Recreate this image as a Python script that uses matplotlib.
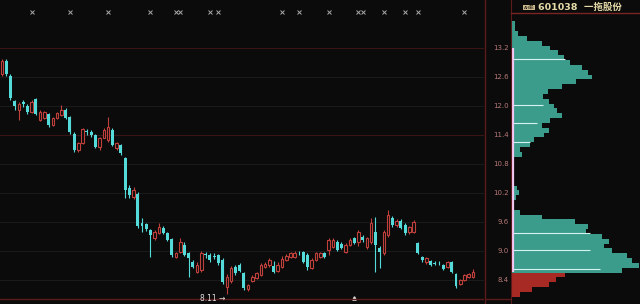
import matplotlib
matplotlib.use("Agg")
import matplotlib.pyplot as plt
from matplotlib.lines import Line2D
import matplotlib.transforms as mtransforms

# daily candles (price in yuan)
opens = [12.66, 12.93, 12.62, 12.10, 11.92, 12.08, 12.00, 11.88, 12.14, 11.71,
         11.75, 11.84, 11.61, 11.75, 11.81, 11.92, 11.77, 11.42, 11.09, 11.23,
         11.48, 11.47, 11.40, 11.15, 11.34, 11.30, 11.50, 11.13, 11.19, 10.92,
         10.30, 10.12, 10.18, 9.58, 9.55, 9.43, 9.26, 9.37, 9.47, 9.37,
         9.24, 8.87, 8.98, 9.12, 8.95, 8.77, 8.56, 8.60, 8.93, 8.91,
         8.89, 8.91, 8.81, 8.25, 8.38, 8.67, 8.71, 8.54, 8.21, 8.38,
         8.44, 8.50, 8.67, 8.71, 8.69, 8.58, 8.67, 8.81, 8.87, 8.87,
         8.96, 8.98, 8.91, 8.65, 8.81, 8.87, 8.95, 9.02, 9.08, 9.18,
         9.14, 8.98, 9.12, 9.26, 9.18, 9.29, 9.08, 9.18, 9.39, 9.06,
         8.96, 9.33, 9.68, 9.54, 9.62, 9.54, 9.39, 9.39, 9.16, 8.87,
         8.77, 8.79, 8.75, 8.75, 8.71, 8.67, 8.77, 8.52, 8.31, 8.40,
         8.46, 8.46]
closes = [12.93, 12.66, 12.17, 12.00, 12.04, 12.04, 11.88, 12.08, 11.83, 11.88,
          11.87, 11.61, 11.75, 11.85, 11.92, 11.75, 11.46, 11.09, 11.23, 11.52,
          11.46, 11.40, 11.15, 11.34, 11.50, 11.56, 11.19, 11.23, 11.03, 10.26,
          10.16, 10.26, 9.52, 9.52, 9.45, 9.33, 9.39, 9.49, 9.37, 9.22,
          8.91, 8.95, 9.18, 8.91, 8.85, 8.67, 8.71, 8.95, 8.91, 8.81,
          8.87, 8.75, 8.36, 8.46, 8.65, 8.54, 8.58, 8.23, 8.29, 8.46,
          8.54, 8.71, 8.73, 8.81, 8.56, 8.71, 8.83, 8.89, 8.95, 8.95,
          8.95, 8.77, 8.67, 8.81, 8.95, 8.95, 8.87, 9.22, 9.22, 9.02,
          9.06, 9.12, 9.22, 9.16, 9.39, 9.22, 9.26, 9.58, 9.12, 8.98,
          9.39, 9.74, 9.54, 9.62, 9.47, 9.37, 9.49, 9.60, 8.95, 8.81,
          8.85, 8.71, 8.73, 8.74, 8.62, 8.77, 8.56, 8.27, 8.40, 8.50,
          8.52, 8.56]
highs = [12.97, 12.97, 12.66, 12.12, 12.08, 12.12, 12.04, 12.12, 12.16, 11.92,
         11.90, 11.86, 11.77, 11.88, 12.02, 11.96, 11.79, 11.46, 11.25, 11.54,
         11.52, 11.50, 11.42, 11.36, 11.54, 11.77, 11.54, 11.25, 11.21, 10.95,
         10.36, 10.32, 10.22, 9.68, 9.58, 9.45, 9.43, 9.58, 9.52, 9.39,
         9.26, 8.98, 9.26, 9.18, 8.98, 8.81, 8.77, 9.00, 8.98, 8.95,
         8.95, 8.93, 8.85, 8.52, 8.69, 8.71, 8.75, 8.56, 8.31, 8.50,
         8.56, 8.75, 8.77, 8.85, 8.79, 8.77, 8.89, 8.93, 8.98, 9.00,
         9.00, 9.00, 8.95, 8.85, 8.98, 8.98, 8.98, 9.26, 9.26, 9.22,
         9.18, 9.16, 9.26, 9.29, 9.43, 9.33, 9.29, 9.68, 9.70, 9.10,
         9.43, 9.85, 9.72, 9.66, 9.66, 9.58, 9.52, 9.64, 9.18, 8.89,
         8.87, 8.81, 8.79, 8.79, 8.73, 8.79, 8.79, 8.54, 8.42, 8.52,
         8.54, 8.62]
lows = [12.62, 12.62, 12.12, 11.92, 11.71, 11.98, 11.84, 11.86, 11.81, 11.69,
        11.72, 11.56, 11.58, 11.73, 11.79, 11.73, 11.42, 11.05, 11.05, 11.21,
        11.40, 11.36, 11.13, 11.09, 11.34, 11.25, 11.17, 11.09, 10.99, 10.09,
        10.09, 10.07, 9.48, 9.39, 9.41, 8.87, 9.22, 9.35, 9.35, 9.20,
        8.87, 8.85, 8.95, 8.89, 8.46, 8.64, 8.54, 8.56, 8.85, 8.77,
        8.83, 8.71, 8.31, 8.11, 8.34, 8.50, 8.56, 8.19, 8.17, 8.36,
        8.42, 8.48, 8.65, 8.67, 8.54, 8.56, 8.65, 8.79, 8.85, 8.85,
        8.91, 8.75, 8.60, 8.62, 8.79, 8.85, 8.85, 8.91, 9.06, 9.00,
        9.04, 8.95, 9.10, 9.14, 9.10, 9.18, 9.04, 9.14, 8.56, 8.65,
        8.91, 9.29, 9.50, 9.50, 9.45, 9.33, 9.35, 9.37, 8.93, 8.77,
        8.73, 8.69, 8.71, 8.71, 8.60, 8.65, 8.54, 8.23, 8.29, 8.38,
        8.44, 8.44]

# information-mine markers along the top (candle index)
events = [7, 16, 25, 35, 41, 42, 49, 51, 66, 70, 77, 84, 85, 90, 95, 98, 109]

price_ticks = [13.2, 12.6, 12.0, 11.4, 10.8, 10.2, 9.6, 9.0, 8.4]
tick_labels = ["13.2", "12.6", "12.0", "11.4", "10.8", "10.2", "9.6", "9.0", "8.4"]

# chip distribution (cost price -> amount)
chip_prices = [13.7, 13.6, 13.5, 13.4, 13.3, 13.2, 13.1, 13.0, 12.9, 12.8,
               12.7, 12.6, 12.5, 12.4, 12.3, 12.2, 12.1, 12.0, 11.9, 11.8,
               11.7, 11.6, 11.5, 11.4, 11.3, 11.2, 11.1, 11.0, 10.9, 10.8,
               10.7, 10.6, 10.5, 10.4, 10.3, 10.2, 10.1, 10.0, 9.9, 9.8,
               9.7, 9.6, 9.5, 9.4, 9.3, 9.2, 9.1, 9.0, 8.9, 8.8,
               8.7, 8.6, 8.5, 8.4, 8.3, 8.2, 8.1]
chip_amount = [3, 3, 6, 15, 30, 38, 46, 52, 58, 70,
               76, 80, 64, 50, 36, 31, 37, 42, 45, 50,
               38, 30, 37, 32, 22, 18, 8, 10, 2, 1,
               1, 1, 1, 2, 5, 7, 4, 1, 2, 8,
               30, 63, 76, 74, 90, 97, 92, 100, 115, 120,
               127, 110, 53, 44, 37, 20, 8]
chip_mark_prices = [12.97, 12.02, 11.65, 11.25, 9.37, 9.02, 8.62]
chip_mark_len = [53, 31, 25, 18, 78, 78, 88]

bg = "#0b0b0b"
up_col = "#c0403c"
down_col = "#55dada"
dark_red = "#5c1a1a"
ylo, yhi = 7.90, 14.194

fig = plt.figure(figsize=(6.4, 3.04), dpi=100, facecolor=bg)
W, H = 640.0, 304.0

ax = fig.add_axes([0, 0, 484 / W, 1])
ax.set_facecolor(bg)
ax.set_xlim(-0.47, 113.6)
ax.set_ylim(ylo, yhi)
ax.axis("off")

for p in price_ticks:
    c = "#3a1515" if p in (13.2, 11.4) else "#1a1a1a"
    ax.axhline(p, color=c, lw=0.8, zorder=0)

for i in range(len(opens)):
    o, c, h, l = opens[i], closes[i], highs[i], lows[i]
    if c >= o:
        ax.vlines(i, l, h, color=up_col, lw=0.8, zorder=2)
        ax.bar(i, max(c - o, 0.012), bottom=o, width=0.62, facecolor=bg,
               edgecolor=up_col, linewidth=0.8, zorder=3)
    else:
        ax.vlines(i, l, h, color=down_col, lw=0.8, zorder=2)
        ax.bar(i, max(o - c, 0.012), bottom=c, width=0.7, color=down_col,
               linewidth=0, zorder=3)

trans = mtransforms.blended_transform_factory(ax.transData, ax.transAxes)
ax.plot(events, [1 - 12 / H] * len(events), "x", color="#a8a8a8", ms=2.6,
        mew=0.7, transform=trans, clip_on=False)
ax.plot([83], [1 - 298 / H], "^", color="#e0e0e0", ms=2.5, transform=trans)

imin = lows.index(min(lows))
ax.text(imin - 0.3, lows[imin], "%.2f →" % lows[imin], ha="right", va="top",
        color="#e0e0e0", fontsize=5.5)
ax.plot([0, 1], [1 - 299 / H] * 2, color=dark_red, lw=1, transform=ax.transAxes)

# price label strip
axl = fig.add_axes([485 / W, 0, 26 / W, 1])
axl.set_facecolor(bg)
axl.set_ylim(ylo, yhi)
axl.axis("off")
for p, t in zip(price_ticks, tick_labels):
    axl.text(0.92, p, t, ha="right", va="center", color="#b87878",
             fontsize=5, transform=mtransforms.blended_transform_factory(axl.transAxes, axl.transData))
axl.plot([0, 1], [1 - 299 / H] * 2, color=dark_red, lw=1, transform=axl.transAxes)

# chip distribution
axc = fig.add_axes([512 / W, 0, 128 / W, 1])
axc.set_facecolor(bg)
axc.set_xlim(0, 128)
axc.set_ylim(ylo, yhi)
axc.axis("off")
current = closes[-1]
chip_cols = ["#3c9c8c" if p > current else "#a82a24" for p in chip_prices]
axc.barh(chip_prices, chip_amount, height=0.1, left=0, color=chip_cols, linewidth=0)
axc.hlines(chip_mark_prices, 0, chip_mark_len, color="#d4f2ee", lw=0.8)
axc.vlines(0.6, current, 13.2, color="#f4c8f4", lw=1.6)

fig.add_artist(Line2D([484.5 / W] * 2, [0, 1], color=dark_red, lw=1))
fig.add_artist(Line2D([511 / W] * 2, [0, 1], color=dark_red, lw=0.8))
fig.add_artist(Line2D([511 / W, 1], [1 - 13 / H] * 2, color="#7a2424", lw=1))

fig.text(529 / W, 1 - 7.5 / H, "AH股", ha="center", va="center", fontsize=3.2,
         color="#201a10", family=["DejaVu Sans", "Noto Sans CJK SC"],
         bbox=dict(boxstyle="square,pad=0.15", fc="#c8b88c", ec="none"))
fig.text(538 / W, 1 - 7.5 / H, "601038  一拖股份", ha="left", va="center",
         fontsize=6.8, color="#e6dca8", fontweight="bold",
         family=["DejaVu Sans", "Noto Sans CJK SC"])

fig.savefig("out.png", dpi=100, facecolor=bg)
